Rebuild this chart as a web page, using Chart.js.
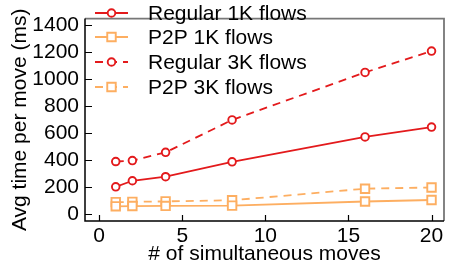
<!DOCTYPE html>
<html>
<head>
<meta charset="utf-8">
<script src="https://cdn.jsdelivr.net/npm/chart.js@4/dist/chart.umd.min.js"></script>
<style>
html,body{margin:0;padding:0;background:#fff;}
canvas{display:block;}
</style>
</head>
<body>
<canvas id="c" width="452" height="267"></canvas>
<script>
// ---- data ----
const xValues = [1, 2, 4, 8, 16, 20];
const regular1K = [200, 245, 275, 386, 571, 644];
const p2p1K = [55, 57, 58, 60, 91, 102];
const regular3K = [388, 395, 456, 697, 1050, 1209];
const p2p3K = [86, 88, 92, 100, 186, 195];
const seriesNames = ['Regular 1K flows', 'P2P 1K flows', 'Regular 3K flows', 'P2P 3K flows'];
const xTicks = [0, 5, 10, 15, 20];
const yTicks = [0, 200, 400, 600, 800, 1000, 1200, 1400];
const xTitle = '# of simultaneous moves';
const yTitle = 'Avg time per move (ms)';

const RED = '#e31a1c';
const ORANGE = '#fdae61';
const FONT = "'Liberation Sans', Arial, Helvetica, sans-serif";

function pts(vals){ return xValues.map((x,i)=>({x:x, y:vals[i]})); }

function ds(label, vals, color, shape, dashed){
  return {
    label: label,
    data: pts(vals),
    borderColor: color,
    backgroundColor: '#ffffff',
    borderWidth: 1.8,
    borderDash: dashed ? [8,6] : [],
    pointStyle: shape,
    pointRadius: shape === 'rect' ? 6 : 3.8,
    pointBorderWidth: 1.9,
    pointBackgroundColor: '#ffffff',
    pointBorderColor: color,
    tension: 0
  };
}

const frameAndTicks = {
  id: 'frameAndTicks',
  afterDatasetsDraw(chart){
    const {ctx, chartArea:a, scales} = chart;
    ctx.save();
    ctx.setLineDash([]);
    // top & right frame (gray)
    ctx.strokeStyle = '#777';
    ctx.lineWidth = 1.8;
    ctx.beginPath();
    ctx.moveTo(a.left, a.top); ctx.lineTo(a.right, a.top); ctx.lineTo(a.right, a.bottom);
    ctx.stroke();
    // left & bottom axes (black)
    ctx.strokeStyle = '#000';
    ctx.lineWidth = 1.5;
    ctx.beginPath();
    ctx.moveTo(a.left, a.top); ctx.lineTo(a.left, a.bottom); ctx.lineTo(a.right, a.bottom);
    ctx.stroke();
    ctx.lineWidth = 1.2;
    ctx.beginPath();
    scales.x.ticks.forEach(t=>{
      const px = Math.round(scales.x.getPixelForValue(t.value)) + 0.5;
      ctx.moveTo(px, a.bottom); ctx.lineTo(px, a.bottom - 6);
    });
    scales.y.ticks.forEach(t=>{
      const py = Math.round(scales.y.getPixelForValue(t.value)) + 0.5;
      ctx.moveTo(a.left, py); ctx.lineTo(a.left + 7, py);
    });
    ctx.stroke();

    // legend
    const rows = [13, 37, 62, 87];
    chart.data.datasets.forEach((d, i)=>{
      const y = rows[i];
      ctx.strokeStyle = d.borderColor;
      ctx.lineWidth = d.borderWidth;
      ctx.setLineDash(d.borderDash);
      ctx.beginPath();
      ctx.moveTo(95, y); ctx.lineTo(128, y);
      ctx.stroke();
      ctx.setLineDash([]);
      ctx.fillStyle = '#ffffff';
      ctx.strokeStyle = d.borderColor;
      ctx.lineWidth = d.pointBorderWidth;
      Chart.helpers.drawPoint(ctx, {
        pointStyle: d.pointStyle, radius: d.pointRadius, borderWidth: d.pointBorderWidth, rotation: 0
      }, 111.5, y);
      ctx.fillStyle = '#000';
      ctx.font = '21px ' + FONT;
      ctx.textAlign = 'left';
      ctx.textBaseline = 'middle';
      ctx.fillText(d.label, 148, y + 1);
    });
    ctx.restore();
  }
};

new Chart(document.getElementById('c'), {
  type: 'line',
  data: {
    datasets: [
      ds(seriesNames[0], regular1K, RED, 'circle', false),
      ds(seriesNames[1], p2p1K, ORANGE, 'rect', false),
      ds(seriesNames[2], regular3K, RED, 'circle', true),
      ds(seriesNames[3], p2p3K, ORANGE, 'rect', true)
    ]
  },
  options: {
    responsive: false,
    animation: false,
    devicePixelRatio: 1,
    layout: { padding: { left: 0, right: 8, top: 1, bottom: 0 } },
    plugins: { legend: { display: false }, tooltip: { enabled: false } },
    scales: {
      x: {
        type: 'linear',
        min: -0.85, max: 20.75,
        grid: { display: false, drawTicks: false },
        border: { display: false },
        afterBuildTicks(s){ s.ticks = xTicks.map(v=>({value:v})); },
        afterFit(s){ s.height = 46; },
        ticks: { color: '#000', font: { family: FONT, size: 21 }, padding: 3, maxRotation: 0, autoSkip: false,
                 callback: v => String(v) },
        title: { display: true, text: xTitle, color: '#000', font: { family: FONT, size: 21 }, padding: { top: 0, bottom: 0 } }
      },
      y: {
        type: 'linear',
        min: -54, max: 1450,
        grid: { display: false, drawTicks: false },
        border: { display: false },
        afterBuildTicks(s){ s.ticks = yTicks.map(v=>({value:v})); },
        afterFit(s){ s.width = 85; },
        ticks: { color: '#000', font: { family: FONT, size: 21 }, padding: 6, autoSkip: false,
                 callback: v => String(v) },
        title: { display: true, text: yTitle, color: '#000', font: { family: FONT, size: 21 }, padding: { top: 8, bottom: 0 } }
      }
    }
  },
  plugins: [frameAndTicks]
});
</script>
</body>
</html>
